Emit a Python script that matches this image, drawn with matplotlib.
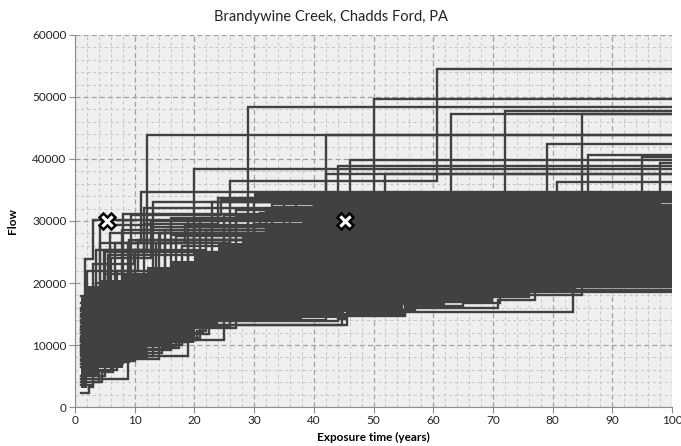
import matplotlib.pyplot as plt
from matplotlib.ticker import MultipleLocator

plt.rcParams["font.family"] = ["Lato", "DejaVu Sans"]

# Each run is a list of (year, running maximum flow) breakpoints.
# The flow is held until the next breakpoint and carried on to year 100.
tall_runs = [
    [(1, 13000), (26, 36400), (60.6, 54500)],
    [(1, 10000), (5, 25000), (12.1, 43800)],
    [(1, 16000), (5.5, 24500), (20, 38400)],
    [(1, 11500), (9, 27000), (29, 48400)],
    [(1, 14000), (13, 29000), (31, 31300), (50, 49600)],
    [(1, 8500), (11.6, 29500), (24, 33700), (42, 43800)],
    [(1, 12500), (15, 28500), (44, 38800)],
    [(1, 10500), (19, 30200), (46, 39800)],
    [(1, 9800), (17, 27500), (42, 37600)],
    [(1, 8200), (19, 27000), (52, 37600)],
    [(1, 13800), (23, 33000), (63, 47200)],
    [(1, 11200), (21, 30500), (37, 34500), (72, 47700)],
    [(1, 7800), (14, 28000), (40, 34500), (85, 47300)],
    [(1, 12800), (27, 31800), (79, 42400)],
    [(1, 9300), (16, 27800), (35, 34200), (86, 40700)],
    [(1, 15800), (30, 33000), (95, 40300)],
    [(1, 14700), (33, 32800), (98, 39300)],
    [(1, 10800), (25, 31000), (80.7, 36300)],
]

early_runs = [
    [(1, 17900), (1.7, 23800), (3, 30150)],
    [(1, 15000), (4.2, 26400), (11, 34600)],
    [(1, 12000), (8.1, 31200)],
    [(1, 9000), (2.5, 17000), (3.6, 25300), (11.5, 32100)],
    [(1, 12500), (4.2, 29400), (13, 33000)],
    [(1, 7000), (5.8, 28000), (16, 30500)],
    [(1, 15500), (6.7, 26400), (18.5, 29400)],
    [(1, 11000), (9.4, 31000), (24.5, 33400)],
    [(1, 6500), (3.5, 20000), (7.8, 28600), (27, 30800)],
    [(1, 13500), (2, 22000), (10.5, 27000), (30, 29500)],
    [(1, 10500), (4.8, 25300), (14.3, 28000), (32, 31500)],
    [(1, 14500), (6, 24000), (12.8, 30000)],
    [(1, 4500), (8.8, 26400), (20, 29000)],
    [(1, 9500), (7, 22000), (15, 27000), (33, 32200)],
    [(1, 7500), (10, 25000), (36, 31800)],
    [(1, 12000), (18, 26000), (40, 32600)],
    [(1, 16800), (3, 23000), (9.8, 25300), (22, 28600)],
    [(1, 8800), (5, 21500), (13.5, 26400), (26, 27900)],
]

low_runs = [
    [(1, 2300), (2.3, 3300), (3, 4100), (4.5, 5700), (6.4, 7100), (8, 7900),
     (10.3, 8700), (14.5, 9500), (17.5, 10800), (20.5, 12200), (22, 13300),
     (44.7, 14700), (55.3, 15900), (70.9, 17300), (77, 19300)],
    [(1, 4000), (4, 5800), (6, 7300), (9, 8100), (12, 9200), (16, 10500),
     (19, 12000), (21.5, 13300), (45.5, 15400), (83.5, 18900)],
    [(1, 3500), (3, 6000), (7, 8300), (13, 10000), (18, 11700), (22.5, 13800),
     (44, 14200), (45.2, 15000), (55.3, 16300), (65, 16800), (71.2, 18000), (85, 19300)],
    [(1, 5000), (5, 8800), (11, 10300), (15, 11200), (20, 13000), (23, 14000),
     (42, 15600), (57, 16900), (68, 17700), (76, 18500)],
]

# the solid core where the runs overlap too tightly to tell apart
core_years = [1, 2, 4, 8, 12, 16, 20, 24, 28, 32, 38, 45, 55, 62, 70, 76, 84, 100]
core_top = [17800, 19500, 20500, 21500, 22500, 23500, 25000, 26500, 28000,
            29500, 30800, 31300, 31300, 31300, 31300, 31300, 31300, 31300]
core_bottom = [3000, 4800, 6300, 8400, 9800, 10300, 12500, 13900, 14000,
               14100, 14300, 15300, 16500, 17000, 17700, 18500, 19200, 19200]
upper_core_years = [30, 100]
upper_core_top = [34600, 34600]
upper_core_bottom = [33000, 33000]

marked_years = [5.4, 45.2]
marked_flows = [30000, 30000]

line_color = "#414141"

fig = plt.figure(figsize=(6.81, 4.46), dpi=100)
ax = fig.add_axes([75 / 681, 1 - 407 / 446, 597 / 681, 372 / 446])
ax.set_facecolor("#efefef")

ax.fill_between(core_years, core_bottom, core_top, step="post",
                color=line_color, lw=0, zorder=2)
ax.fill_between(upper_core_years, upper_core_bottom, upper_core_top, step="post",
                color=line_color, lw=0, zorder=2)

for run in tall_runs + early_runs + low_runs:
    years = [p[0] for p in run] + [100]
    flows = [p[1] for p in run] + [run[-1][1]]
    ax.plot(years, flows, drawstyle="steps-post", color=line_color, lw=1.7,
            zorder=3, solid_joinstyle="miter")

ax.plot(marked_years, marked_flows, ls="none", marker="X", ms=11,
        mfc="white", mec="black", mew=1.8, zorder=5)

ax.set_xlim(0, 100)
ax.set_ylim(0, 60000)
ax.xaxis.set_major_locator(MultipleLocator(10))
ax.xaxis.set_minor_locator(MultipleLocator(2))
ax.yaxis.set_major_locator(MultipleLocator(10000))
ax.yaxis.set_minor_locator(MultipleLocator(2000))
ax.set_axisbelow(True)
ax.grid(which="major", color="#a0a0a0", lw=0.9, ls=(0, (4, 2.5)))
ax.grid(which="minor", color="#c4c4c4", lw=0.7, ls=(0, (3, 3)))

for side in ["top", "right"]:
    ax.spines[side].set_visible(False)
for side in ["left", "bottom"]:
    ax.spines[side].set_color("#8c8c8c")
ax.tick_params(which="major", length=4, color="#8c8c8c", labelsize=8.5,
               labelcolor="#222222", pad=2)
ax.tick_params(which="minor", length=0)

ax.set_xlabel("Exposure time (years)", fontsize=8.5, fontweight="bold", labelpad=4)
ax.set_ylabel("Flow", fontsize=8.5, fontweight="bold", labelpad=10)
fig.text(331 / 681, 1 - 17 / 446, "Brandywine Creek, Chadds Ford, PA",
         ha="center", va="center", fontsize=10.5, color="#222222")

fig.savefig("out.png", dpi=100)
